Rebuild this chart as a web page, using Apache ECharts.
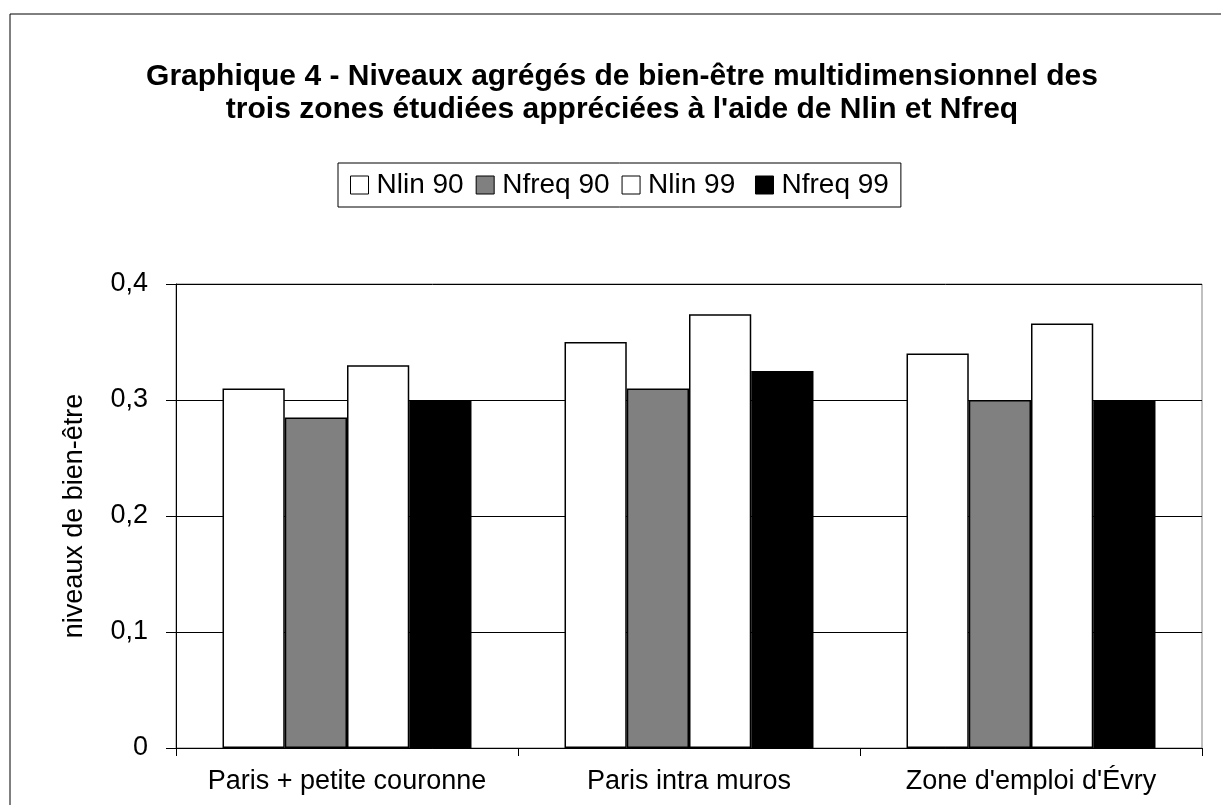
<!DOCTYPE html>
<html>
<head>
<meta charset="utf-8">
<script src="https://cdn.jsdelivr.net/npm/echarts@6/dist/echarts.min.js"></script>
<style>
  html, body { margin: 0; padding: 0; background: #fff; }
  #main { width: 1221px; height: 805px; }
</style>
</head>
<body>
<div id="main"></div>
<script>
// données
const zones = ['Paris + petite couronne', 'Paris intra muros', "Zone d'emploi d'Évry"];
const nlin90 = [0.31, 0.35, 0.34];
const nfreq90 = [0.285, 0.31, 0.30];
const nlin99 = [0.33, 0.374, 0.366];
const nfreq99 = [0.30, 0.325, 0.30];
const yTicks = [0, 0.1, 0.2, 0.3, 0.4];

const font = 'Liberation Sans, Arial, sans-serif';
const titre = "Graphique 4 - Niveaux agrégés de bien-être multidimensionnel des\ntrois zones étudiées appréciées à l'aide de Nlin et Nfreq";

function barSerie(name, data, color) {
  return {
    name: name,
    type: 'bar',
    data: data,
    barWidth: '18.2%',
    barGap: '0%',
    itemStyle: { color: color, borderColor: '#000', borderWidth: 1.5 }
  };
}

const chart = echarts.init(document.getElementById('main'));
chart.setOption({
  animation: false,
  backgroundColor: '#fff',
  legend: {
    left: 338,
    top: 163,
    padding: [8, 12],
    borderColor: '#000',
    borderWidth: 1,
    itemWidth: 18,
    itemHeight: 18,
    itemGap: 12,
    icon: 'rect',
    itemStyle: { borderColor: '#000', borderWidth: 1 },
    textStyle: { fontFamily: font, fontSize: 28, color: '#000', padding: [0, 0, 0, 3] },
    data: ['Nlin 90', 'Nfreq 90', 'Nlin 99 ', 'Nfreq 99']
  },
  grid: {
    left: 176,
    right: 19,
    top: 284,
    bottom: 57,
    show: true,
    borderColor: '#808080',
    borderWidth: 1
  },
  xAxis: {
    type: 'category',
    data: zones,
    axisLine: { lineStyle: { color: '#000', width: 1 } },
    axisTick: { show: true, length: 8, lineStyle: { color: '#000' } },
    axisLabel: { fontFamily: font, fontSize: 27, color: '#000', margin: 20, interval: 0 }
  },
  yAxis: {
    type: 'value',
    min: yTicks[0],
    max: yTicks[yTicks.length - 1],
    interval: 0.1,
    name: 'niveaux de bien-être',
    nameLocation: 'middle',
    nameRotate: 90,
    nameGap: 88,
    nameTextStyle: { fontFamily: font, fontSize: 27, color: '#000' },
    axisLine: { show: true, lineStyle: { color: '#000', width: 1 } },
    axisTick: { show: true, length: 10, inside: false, lineStyle: { color: '#000' } },
    axisLabel: {
      fontFamily: font, fontSize: 27, color: '#000', margin: 28,
      formatter: function (v) { return String(Math.round(v * 10) / 10).replace('.', ','); }
    },
    splitLine: { show: true, lineStyle: { color: '#000', width: 1 } }
  },
  graphic: [{
    type: 'rect',
    shape: { x: 10, y: 14, width: 1212, height: 800 },
    style: { fill: 'none', stroke: '#000', lineWidth: 1 },
    silent: true,
    z: 100
  }, {
    type: 'text',
    x: 622,
    y: 60,
    silent: true,
    style: {
      text: titre,
      fontFamily: font,
      fontSize: 30,
      fontWeight: 'bold',
      lineHeight: 33,
      fill: '#000',
      align: 'center',
      verticalAlign: 'top'
    }
  }],
  series: [
    barSerie('Nlin 90', nlin90, '#ffffff'),
    barSerie('Nfreq 90', nfreq90, '#808080'),
    barSerie('Nlin 99 ', nlin99, '#ffffff'),
    barSerie('Nfreq 99', nfreq99, '#000000')
  ]
});
</script>
</body>
</html>
